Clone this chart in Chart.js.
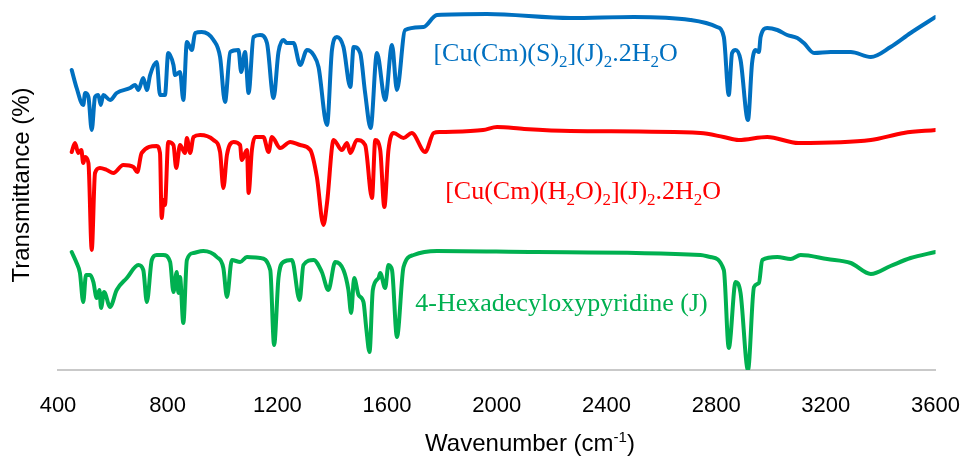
<!DOCTYPE html>
<html>
<head>
<meta charset="utf-8">
<script src="https://cdn.jsdelivr.net/npm/chart.js@4"></script>
<style>
  html, body { margin: 0; padding: 0; background: #fff; }
  #wrap { width: 963px; height: 459px; }
</style>
</head>
<body>
<div id="wrap"><canvas id="ir"></canvas></div>
<script>
// IR spectra, offset transmittance (arbitrary units, stacked)
const CU_S_WN = [450,468,492,499,511,523,535,547,556,565,590,614,663,681,693,711,724,736,760,772,790,802,821,827,845,857,870,888,900,924,967,991,1009,1028,1058,1068,1082,1095,1113,1137,1162,1186,1204,1222,1234,1259,1283,1308,1332,1350,1381,1399,1417,1441,1466,1478,1502,1520,1540,1563,1593,1618,1636,1666,1733,1770,1782,1964,2269,2500,2706,2803,2828,2846,2858,2871,2889,2916,2931,2944,2956,2962,2986,3023,3059,3096,3120,3157,3218,3291,3364,3436,3509,3600];
const CU_S_T  = [300,282,265,277,273,240,273,275,265,275,270,277,282,285,280,292,280,295,308,275,275,317,305,295,298,270,328,320,337,338,330,313,268,318,320,298,318,277,333,335,327,272,318,330,327,327,305,320,315,303,245,320,333,323,283,323,317,277,242,317,270,325,280,340,343,353,355,356,352,353,350,343,333,275,317,320,310,250,307,320,318,333,342,340,335,332,327,317,318,318,313,323,337,353];

const CU_H2O_WN = [450,462,474,485,492,499,511,523,535,553,578,602,638,675,689,705,760,772,778,785,790,802,821,831,845,863,870,882,894,918,967,991,1003,1016,1040,1064,1070,1089,1095,1107,1119,1149,1168,1180,1210,1247,1283,1320,1344,1368,1381,1405,1435,1454,1466,1490,1520,1545,1557,1575,1590,1605,1624,1660,1690,1739,1770,1794,1950,2001,2100,2269,2743,2827,2882,2986,3100,3364,3484,3600];
const CU_H2O_T  = [218,227,217,220,207,213,207,120,197,202,200,197,205,203,198,217,224,217,152,170,165,228,225,202,225,217,232,217,233,235,230,218,182,215,228,225,210,220,177,220,233,233,218,233,222,228,225,220,193,145,167,230,220,227,217,230,225,172,230,220,163,220,237,232,237,218,237,238,240,243,241,239,237,233,230,233,227,230,237,240];

const LIGAND_WN = [450,468,480,492,502,517,529,541,551,557,568,590,614,651,693,711,724,742,760,784,809,821,833,839,845,857,870,894,930,979,1003,1016,1034,1064,1089,1137,1174,1188,1204,1222,1253,1281,1295,1332,1362,1386,1411,1441,1459,1469,1480,1496,1514,1524,1536,1548,1569,1575,1593,1605,1618,1636,1660,1697,1782,2147,2743,2779,2828,2846,2871,2889,2916,2938,2956,2968,3023,3072,3108,3205,3291,3364,3436,3509,3600];
const LIGAND_T  = [118,107,97,68,95,95,88,72,80,62,78,63,80,92,105,100,68,110,115,115,108,78,98,77,93,47,110,117,119,113,102,73,110,108,113,112,100,25,92,108,110,70,105,110,98,80,108,100,80,57,92,75,68,42,18,80,92,97,82,105,100,33,103,115,119,118,115,113,100,22,88,77,0,83,87,110,113,111,115,111,107,96,104,112,118];

const SERIES_COLORS = ['#0070C0', '#FF0000', '#00B050'];

// label text as [text, isSubscript] runs, anchored at [wavenumber, transmittance]
const LABELS = [
  { runs: [['[Cu(Cm)(S)',0],['2',1],['](J)',0],['2',1],['.2H',0],['2',1],['O',0]], at: [1769, 309], color: SERIES_COLORS[0] },
  { runs: [['[Cu(Cm)(H',0],['2',1],['O)',0],['2',1],['](J)',0],['2',1],['.2H',0],['2',1],['O',0]], at: [1812, 171], color: SERIES_COLORS[1] },
  { runs: [['4-Hexadecyloxypyridine (J)',0]], at: [1703, 59], color: SERIES_COLORS[2] },
];

const toPoints = (xs, ys) => xs.map((x, i) => ({ x, y: ys[i] }));

const seriesLabels = {
  id: 'seriesLabels',
  afterDatasetsDraw(chart) {
    const { ctx, scales: { x, y } } = chart;
    ctx.save();
    ctx.textBaseline = 'alphabetic';
    for (const lab of LABELS) {
      let px = x.getPixelForValue(lab.at[0]);
      const py = y.getPixelForValue(lab.at[1]);
      ctx.fillStyle = lab.color;
      for (const [t, sub] of lab.runs) {
        ctx.font = sub ? '17px "Liberation Serif", serif' : '26px "Liberation Serif", serif';
        ctx.fillText(t, px, sub ? py + 6 : py);
        px += ctx.measureText(t).width;
      }
    }
    ctx.restore();
  },
};

// x title with a real superscript
const xTitle = {
  id: 'xTitle',
  afterDraw(chart) {
    const { ctx } = chart;
    const runs = [['Wavenumber (cm', 0], ['-1', 1], [')', 0]];
    const big = '24px "Liberation Sans", Arial, sans-serif';
    const small = '15px "Liberation Sans", Arial, sans-serif';
    ctx.save();
    let w = 0;
    for (const [t, sup] of runs) { ctx.font = sup ? small : big; w += ctx.measureText(t).width; }
    let px = 530 - w / 2;
    const base = 451;
    ctx.fillStyle = '#000';
    ctx.textBaseline = 'alphabetic';
    for (const [t, sup] of runs) {
      ctx.font = sup ? small : big;
      ctx.fillText(t, px, sup ? base - 9 : base);
      px += ctx.measureText(t).width;
    }
    ctx.restore();
  },
};

const line = (label, xs, ys, color) => ({
  label,
  data: toPoints(xs, ys),
  borderColor: color,
  backgroundColor: color,
  borderWidth: 4,
  pointRadius: 0,
  cubicInterpolationMode: 'monotone',
  borderJoinStyle: 'round',
  borderCapStyle: 'round',
});

new Chart(document.getElementById('ir'), {
  type: 'line',
  data: {
    datasets: [
      line('[Cu(Cm)(S)2](J)2.2H2O', CU_S_WN, CU_S_T, SERIES_COLORS[0]),
      line('[Cu(Cm)(H2O)2](J)2.2H2O', CU_H2O_WN, CU_H2O_T, SERIES_COLORS[1]),
      line('4-Hexadecyloxypyridine (J)', LIGAND_WN, LIGAND_T, SERIES_COLORS[2]),
    ],
  },
  plugins: [seriesLabels, xTitle],
  options: {
    responsive: true,
    maintainAspectRatio: false,
    animation: false,
    layout: { padding: 0 },
    plugins: { legend: { display: false }, tooltip: { enabled: false } },
    scales: {
      x: {
        type: 'linear',
        min: 400,
        max: 3600,
        ticks: { stepSize: 400, padding: 3, color: '#000', callback: v => String(v), font: { family: '"Liberation Sans", Arial, sans-serif', size: 22 } },
        grid: { display: true, drawOnChartArea: false, drawTicks: true, tickLength: 20, color: 'rgba(0,0,0,0)', tickColor: 'rgba(0,0,0,0)' },
        border: { display: true, color: '#c9c9c9', width: 2 },
        afterFit: s => { s.height = 89; },
      },
      y: {
        min: 0,
        max: 370,
        ticks: { display: false },
        grid: { display: false, drawTicks: false },
        border: { display: false },
        title: { display: true, text: 'Transmittance (%)', color: '#000', padding: { top: 8, bottom: 4 }, font: { family: '"Liberation Sans", Arial, sans-serif', size: 24 } },
        afterFit: s => { s.width = 58; },
      },
    },
  },
});
</script>
</body>
</html>
